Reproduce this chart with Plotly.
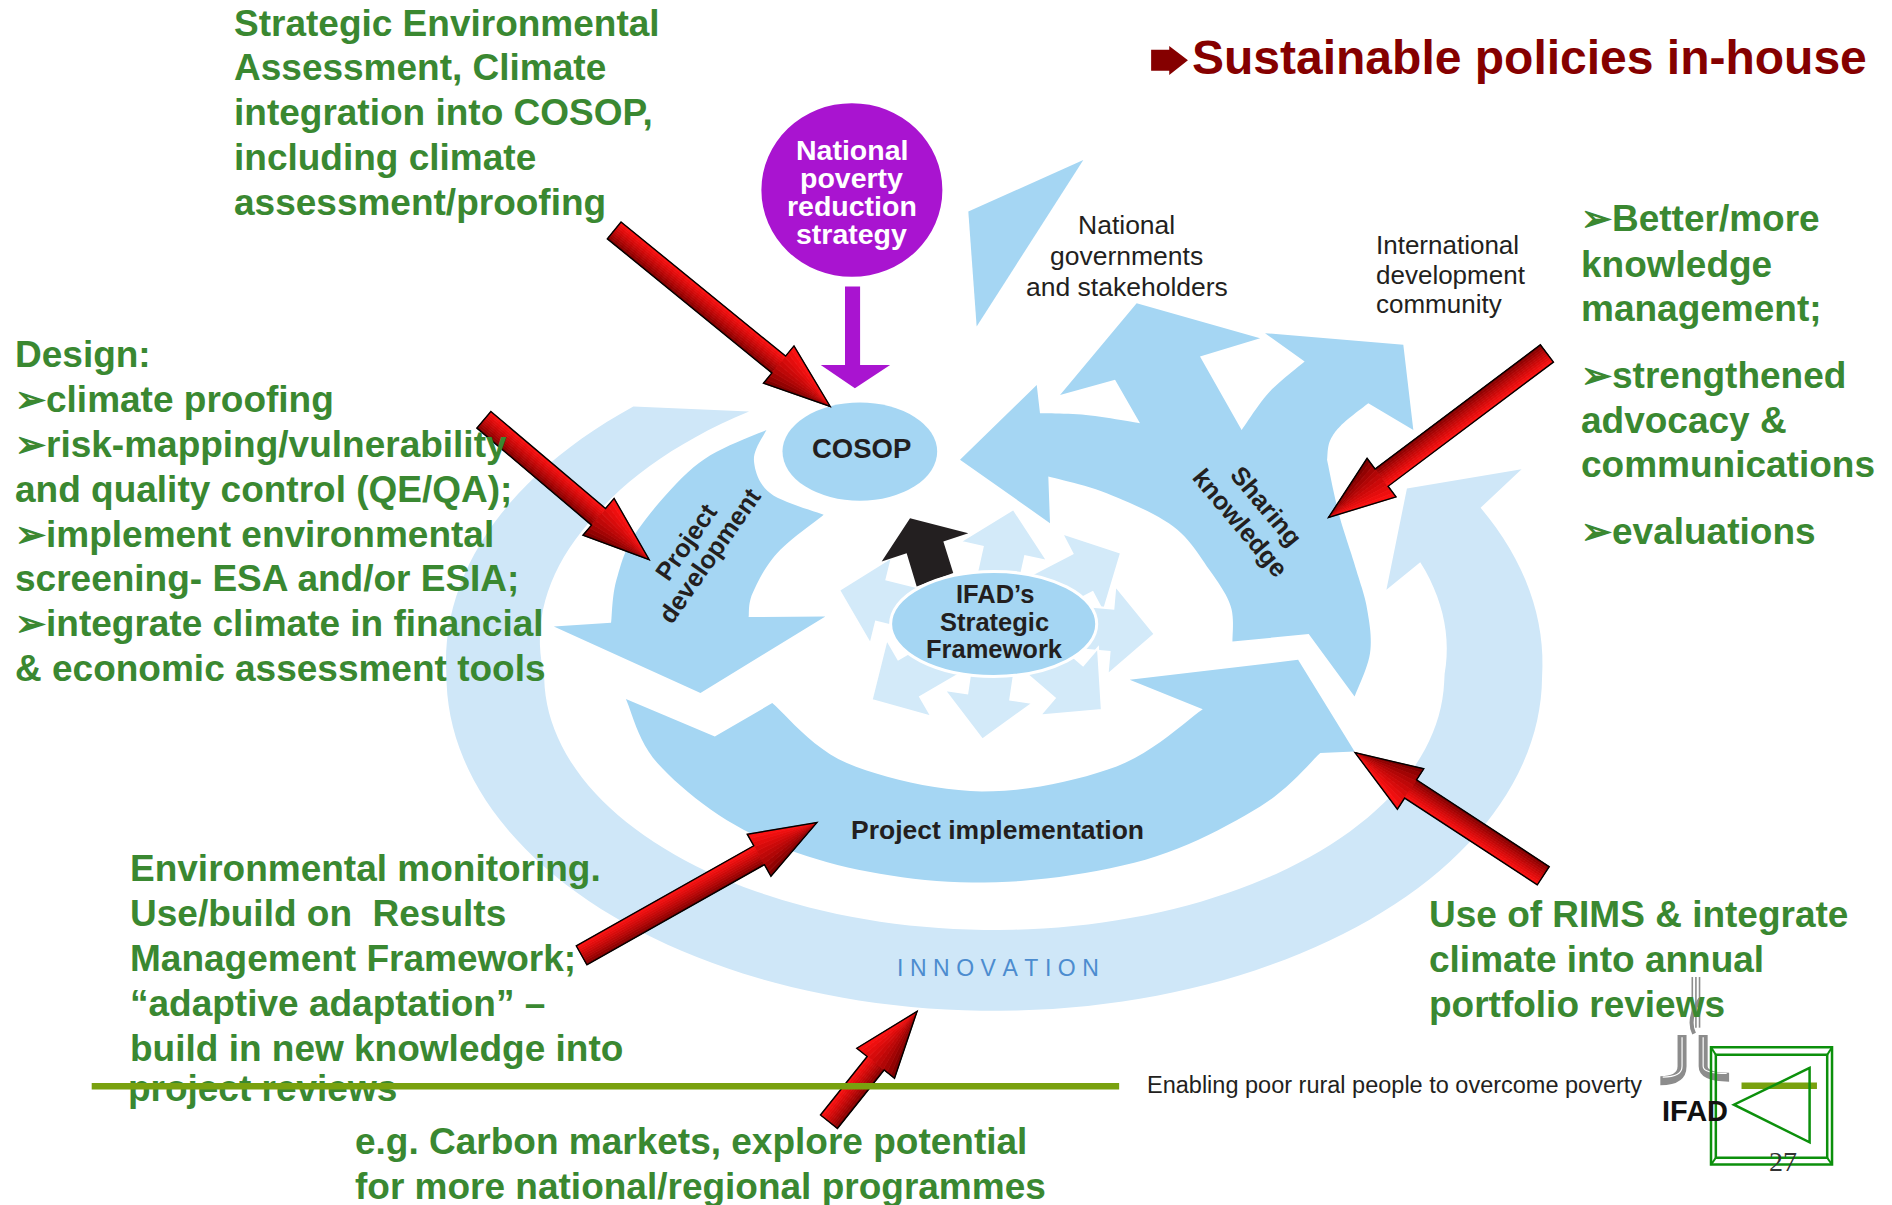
import math
import plotly.graph_objects as go

# ---------------- text content ----------------
TITLE = "Sustainable policies in-house"
BLOCK_A = ["Strategic Environmental", "Assessment, Climate", "integration into COSOP,",
           "including climate", "assessment/proofing"]
BLOCK_B = ["Design:", "➢climate proofing", "➢risk-mapping/vulnerability",
           "and quality control (QE/QA);", "➢implement environmental",
           "screening- ESA and/or ESIA;", "➢integrate climate in financial",
           "&amp; economic assessment tools"]
BLOCK_C = ["➢Better/more", "knowledge", "management;", "➢strengthened",
           "advocacy &amp;", "communications", "➢evaluations"]
BLOCK_D = ["Environmental monitoring.", "Use/build on\u00a0 Results", "Management Framework;",
           "“adaptive adaptation” –", "build in new knowledge into", "project reviews"]
BLOCK_E = ["Use of RIMS &amp; integrate", "climate into annual", "portfolio reviews"]
BLOCK_F = ["e.g. Carbon markets, explore potential", "for more national/regional programmes"]
NPRS = ["National", "poverty", "reduction", "strategy"]
NAT_GOV = ["National", "governments", "and stakeholders"]
INTL = ["International", "development", "community"]
IFAD_SF = ["IFAD’s", "Strategic", "Framework"]
PROJ_DEV = ["Project", "development"]
SHARING = ["Sharing", "knowledge"]
COSOP = "COSOP"
PROJ_IMPL = "Project implementation"
INNOVATION = "INNOVATION"
FOOTER = "Enabling poor rural people to overcome poverty"
LOGO = "IFAD"
PAGE = "27"

# ---------------- styling ----------------
PAGE_MARGIN = 8                      # default body margin of the html page
W, H = 1892 - PAGE_MARGIN, 1205 - PAGE_MARGIN
SX, SY = 1892 / 1568, 1205 / 999
XR, YR = 1568, 999
SANS = "Liberation Sans, Arial, Helvetica, sans-serif"
GREEN = "#3A8831"
DARK = "#231F20"
MAROON = "#850000"
MED = "#A5D6F3"
LIGHT = "#CFE7F8"
STAR = "#D3EAF9"
PURPLE = "#A914D0"

shapes = []
annotations = []


def catmull(pts, n=12):
    out = []
    P = [pts[0]] + list(pts) + [pts[-1]]
    for i in range(1, len(P) - 2):
        p0, p1, p2, p3 = P[i - 1], P[i], P[i + 1], P[i + 2]
        for k in range(n):
            t = k / n
            t2, t3 = t * t, t * t * t
            x = 0.5 * (2 * p1[0] + (-p0[0] + p2[0]) * t + (2 * p0[0] - 5 * p1[0] + 4 * p2[0] - p3[0]) * t2
                       + (-p0[0] + 3 * p1[0] - 3 * p2[0] + p3[0]) * t3)
            y = 0.5 * (2 * p1[1] + (-p0[1] + p2[1]) * t + (2 * p0[1] - 5 * p1[1] + 4 * p2[1] - p3[1]) * t2
                       + (-p0[1] + 3 * p1[1] - 3 * p2[1] + p3[1]) * t3)
            out.append((x, y))
    out.append(pts[-1])
    return out


def poly(*segs):
    pts = []
    for kind, p in segs:
        seg = catmull(p) if kind == "S" else list(p)
        if pts and seg and abs(pts[-1][0] - seg[0][0]) < 1e-6 and abs(pts[-1][1] - seg[0][1]) < 1e-6:
            seg = seg[1:]
        pts.extend(seg)
    return pts


def path_of(pts, close=True):
    s = "M " + " L ".join(f"{x:.2f},{y:.2f}" for x, y in pts)
    return s + (" Z" if close else "")


def add_poly(pts, fill, line_color=None, line_width=0, close=True):
    shapes.append(dict(type="path", xref="x", yref="y", path=path_of(pts, close),
                       fillcolor=fill if fill else "rgba(0,0,0,0)",
                       line=dict(color=line_color or "rgba(0,0,0,0)", width=line_width)))


def add_ellipse(cx, cy, rx, ry, fill, line_color=None, line_width=0):
    shapes.append(dict(type="circle", xref="x", yref="y", x0=cx - rx, x1=cx + rx, y0=cy - ry, y1=cy + ry,
                       fillcolor=fill, line=dict(color=line_color or "rgba(0,0,0,0)", width=line_width)))


def interp(keys, a):
    if a <= keys[0][0]:
        return keys[0][1]
    for (a0, s0), (a1, s1) in zip(keys[:-1], keys[1:]):
        if a0 <= a <= a1:
            return s0 + (s1 - s0) * (a - a0) / (a1 - a0)
    return keys[-1][1]


def ell_edge(cx, cy, rx, ry, a_from, a_to, keys, n=140):
    pts = []
    for i in range(n + 1):
        a = a_from + (a_to - a_from) * i / n
        s = interp(keys, a)
        r = math.radians(a)
        pts.append((cx + s * rx * math.cos(r), cy + s * ry * math.sin(r)))
    return pts


def arrow_geom(T, P, sw, hw, hl):
    dx, dy = P[0] - T[0], P[1] - T[1]
    L = math.hypot(dx, dy)
    ux, uy = dx / L, dy / L
    nx, ny = uy, -ux
    B = (P[0] - ux * hl, P[1] - uy * hl)

    def off(pt, k):
        return (pt[0] + nx * k, pt[1] + ny * k)
    return B, off


def arrow_outline(T, P, sw, hw, hl):
    B, off = arrow_geom(T, P, sw, hw, hl)
    return [off(T, sw / 2), off(B, sw / 2), off(B, hw / 2), P, off(B, -hw / 2), off(B, -sw / 2), off(T, -sw / 2)]


def red_arrow(T, P, sw=18, hw=40, hl=55, n=10):
    B, off = arrow_geom(T, P, sw, hw, hl)
    for i in range(n):
        u0 = -1 + 2 * i / n
        u1 = -1 + 2 * (i + 1) / n
        t = ((u0 + u1) / 2 + 1) / 2
        r = int(112 + 143 * (t ** 0.75))
        g = int(18 * t)
        col = f"rgb({r},{g},{g})"
        add_poly([off(T, u0 * sw / 2), off(B, u0 * sw / 2), off(B, u1 * sw / 2), off(T, u1 * sw / 2)],
                 col, col, 0.8)
        add_poly([off(B, u0 * hw / 2), P, off(B, u1 * hw / 2)], col, col, 0.8)
    add_poly(arrow_outline(T, P, sw, hw, hl), None, "#000000", 1.4)


# ---------------- outer light ring (INNOVATION) ----------------
RC = (824, 560)
OUT_KEYS = [(-29.4, 1.019), (0, 1.0), (180, 1.0), (230.6, 1.038)]
IN_KEYS = [(-25.2, 1.046), (0, 1.0), (180, 1.0), (214.3, 1.084), (242.3, 1.172)]
outer = ell_edge(RC[0], RC[1], 454, 278, 230.6, -29.4, OUT_KEYS)
inner = ell_edge(RC[0], RC[1], 373, 211, -25.2, 242.3, IN_KEYS)
add_poly(outer + [(1261, 389), (1166, 405), (1149, 489)] + inner, LIGHT)

# ---------------- starburst around IFAD framework ----------------
SC = (823.5, 517.3)
for a in [-83, -38, 5, 48, 94, 139, 197]:
    r = math.radians(a)
    tip = (SC[0] + 134 * math.cos(r), SC[1] + 96 * math.sin(r))
    rt = math.radians(a - 12)
    tail = (SC[0] + 20 * math.cos(rt), SC[1] + 14 * math.sin(rt))
    add_poly(arrow_outline(tail, tip, 36, 74, 36), STAR, "#FFFFFF", 2)

# ---------------- medium-blue cycle arrows ----------------
PD = poly(("S", [(506.4, 516.3), (510.9, 480.7), (528.7, 439.2), (579, 384), (635.2, 356.4)]),
          ("S", [(635.2, 356.4), (624.8, 381.2), (638.2, 408.8), (682.6, 426.8)]),
          ("S", [(682.6, 426.8), (644, 458.6), (623.7, 491.8), (620.4, 511.6)]),
          ("L", [(684, 511.1), (580.5, 574.6), (459, 519.4)]))
add_poly(PD, MED)

PI = poly(("L", [(518.7, 579.6), (592.4, 610.5), (640, 582.9)]),
          ("S", [(640, 582.9), (701.8, 632.6), (813.6, 656.1), (925.4, 635.4), (996.8, 587.9)]),
          ("L", [(936.2, 563.6), (1075.8, 547), (1122.6, 623), (1094.2, 624.3)]),
          ("S", [(1094.2, 624.3), (1044.4, 668.6), (949.3, 712.7), (825.5, 731.5), (711.3, 721),
                 (616.2, 687.9), (544.8, 632.6), (518.7, 579.6)]))
add_poly(PI, MED)

SK = poly(("L", [(1021.4, 531.8), (1084.6, 525.7), (1122.6, 577.4)]),
          ("S", [(1122.6, 577.4), (1135.4, 541.5), (1133, 505), (1123.1, 469.6), (1109.4, 425.4), (1099.8, 381.2)]),
          ("S", [(1099.8, 381.2), (1102, 366), (1112, 352), (1134, 334.3)]),
          ("L", [(1171.3, 356.4), (1163, 285.9), (1048.4, 276.2), (1081.2, 299.7)]),
          ("S", [(1081.2, 299.7), (1052, 325), (1029, 356.4)]),
          ("L", [(994.5, 295.6), (1044.3, 280.4), (942, 251.4), (878.5, 327.4), (924.1, 314.9), (944.8, 350.8)]),
          ("S", [(944.8, 350.8), (900, 344), (861.9, 342.5)]),
          ("L", [(859.2, 319.1), (795.6, 381.2), (870.2, 433.7), (868.8, 395)]),
          ("S", [(868.8, 395), (917.2, 408.9), (972.4, 436.5), (1002.2, 472.4), (1020, 502.8), (1021.4, 531.8)]))
add_poly(SK, MED)

# detached arrowhead (National governments)
add_poly([(802.5, 175.4), (897.8, 132.6), (809.4, 270.7)], MED)

# COSOP ellipse
add_ellipse(712.6, 374.4, 64.1, 40.7, MED)

# black arrow from framework to COSOP
add_poly([(759.7, 486.2), (751.4, 458.6), (730.7, 465.5), (754.2, 429.6), (802.5, 442), (781.8, 449),
          (790, 475.1)], "#231F20")

# IFAD strategic framework ellipse
add_ellipse(SC[0], SC[1], 85.4, 43.5, MED, "#FFFFFF", 3)

# purple circle + arrow
add_ellipse(706, 157.5, 75, 72, PURPLE)
add_poly([(700.3, 237.6), (712.8, 237.6), (712.8, 302.5), (737.7, 302.5), (708.5, 321.8), (680.2, 302.5),
          (700.3, 302.5)], PURPLE)

# ---------------- red callout arrows ----------------
RED_ARROWS = [((509, 191), (688, 337)), ((401, 348), (538, 464)), ((1282, 293), (1101, 429)),
              ((1279, 726), (1123, 624)), ((482, 792), (677, 682)), ((687, 930), (760, 838.5))]
for T, P in RED_ARROWS:
    red_arrow(T, P)

# ---------------- title arrow ----------------
add_poly([(954, 41.2), (969, 41.2), (969, 38.1), (984.5, 50), (969, 62.1), (969, 58.7), (954, 58.7)], MAROON)

# ---------------- footer ----------------
OLIVE = "#79A10F"
shapes.append(dict(type="line", xref="x", yref="y", x0=76, x1=927.5, y0=900.6, y1=900.6,
                   line=dict(color=OLIVE, width=6.5), layer="above"))
shapes.append(dict(type="line", xref="x", yref="y", x0=1443.3, x1=1505.8, y0=900.2, y1=900.2,
                   line=dict(color=OLIVE, width=6.5)))

# IFAD logo graphic
GREY = "#8C8C8C"
for xx in (1402.5, 1405.5, 1408.5):
    shapes.append(dict(type="line", xref="x", yref="y", x0=xx, x1=xx, y0=810, y1=852,
                       line=dict(color=GREY, width=1.6)))
shapes.append(dict(type="path", xref="x", yref="y", path="M 1409,828 Q 1398,845 1404,857",
                   line=dict(color=GREY, width=4)))
shapes.append(dict(type="path", xref="x", yref="y", path="M 1394,858 L 1394,884 Q 1394,896 1376,896",
                   line=dict(color=GREY, width=9)))
shapes.append(dict(type="path", xref="x", yref="y", path="M 1411.5,858 L 1411.5,884 Q 1411.5,893 1433,893",
                   line=dict(color=GREY, width=9)))
shapes.append(dict(type="path", xref="x", yref="y", path="M 1394,860 L 1394,884 Q 1394,893 1378,893",
                   line=dict(color="#FFFFFF", width=1.2)))
shapes.append(dict(type="path", xref="x", yref="y", path="M 1411.5,860 L 1411.5,884 Q 1411.5,890 1431,890",
                   line=dict(color="#FFFFFF", width=1.2)))

# green frame with triangle
FG = "#0C900C"
shapes.append(dict(type="rect", xref="x", yref="y", x0=1418, x1=1518.3, y0=868.3, y1=965.5,
                   line=dict(color=FG, width=2.5)))
shapes.append(dict(type="rect", xref="x", yref="y", x0=1422, x1=1514.3, y0=874.4, y1=959.8,
                   line=dict(color=FG, width=2.5)))
for (xa, ya), (xb, yb) in [((1418, 868.3), (1422, 874.4)), ((1518.3, 868.3), (1514.3, 874.4)),
                           ((1418, 965.5), (1422, 959.8)), ((1518.3, 965.5), (1514.3, 959.8))]:
    shapes.append(dict(type="line", xref="x", yref="y", x0=xa, y0=ya, x1=xb, y1=yb,
                       line=dict(color=FG, width=2)))
add_poly([(1499.7, 885.4), (1437, 915.8), (1499.7, 947)], None, FG, 2.5)


# ---------------- text ----------------
def ann(x, y, text, size, color=DARK, bold=False, xanchor="left", angle=0, family=SANS):
    annotations.append(dict(x=x, y=y, xref="x", yref="y", text=f"<b>{text}</b>" if bold else text,
                            showarrow=False, xanchor=xanchor, yanchor="middle", textangle=angle,
                            font=dict(family=family, size=size, color=color)))


ann(986.5, 47.6, TITLE, 48, MAROON, bold=True)

for i, t in enumerate(BLOCK_A):
    ann(192, 19.2 + 37.15 * i, t, 37, GREEN, bold=True)
for i, t in enumerate(BLOCK_B):
    ann(11, 294.2 + 37.15 * i, t, 37, GREEN, bold=True)
for t, y in zip(BLOCK_C, [181, 219, 256, 311, 348.5, 385, 441]):
    ann(1309, y, t, 37, GREEN, bold=True)
for i, t in enumerate(BLOCK_D[:-1]):
    ann(106, 720.3 + 37.2 * i, t, 37, GREEN, bold=True)
for i, t in enumerate(BLOCK_E):
    ann(1183, 758.5 + 37.3 * i, t, 37, GREEN, bold=True)
for i, t in enumerate(BLOCK_F):
    ann(292.5, 946.2 + 37.3 * i, t, 37, GREEN, bold=True)

for t, y in zip(NPRS, [124.5, 147.8, 171, 194.3]):
    ann(706, y, t, 28.5, "#FFFFFF", bold=True, xanchor="center")
for t, y in zip(NAT_GOV, [186.5, 212.5, 237.6]):
    ann(933.8, y, t, 26.5, DARK, xanchor="center")
for t, y in zip(INTL, [203, 228, 252]):
    ann(1139, y, t, 26, DARK)
for t, y in zip(IFAD_SF, [492.5, 515.3, 538]):
    ann(824.6, y, t, 25.5, DARK, bold=True, xanchor="center")
ann(713.6, 371.6, COSOP, 27.5, DARK, bold=True, xanchor="center")
ann(826.5, 688, PROJ_IMPL, 26.5, DARK, bold=True, xanchor="center")
for t, (x, y) in zip(PROJ_DEV, [(568.6, 449.6), (588.5, 460.5)]):
    ann(x, y, t, 25.5, DARK, bold=True, xanchor="center", angle=-55)
for t, (x, y) in zip(SHARING, [(1049.5, 419.5), (1028, 434)]):
    ann(x, y, t, 25.5, DARK, bold=True, xanchor="center", angle=50)
ann(826.7, 802.5, "\u2009\u200a".join(INNOVATION), 23, "#4C8CCF", xanchor="center")
ann(949, 899.2, FOOTER, 23.5, DARK)
ann(1404.5, 921.3, LOGO, 29, "#111111", bold=True, xanchor="center")
ann(1478, 963, PAGE, 28, "#333333", xanchor="center", family="Liberation Serif, Times New Roman, serif")

# last green line drawn as a trace so the footer rule passes over it
fig = go.Figure()
fig.add_trace(go.Scatter(x=[106], y=[905.5], mode="text", text=[f"<b>{BLOCK_D[-1]}</b>"],
                         textposition="middle right", hoverinfo="skip", showlegend=False,
                         textfont=dict(family=SANS, size=37, color=GREEN)))

fig.update_layout(
    width=W, height=H, margin=dict(l=0, r=0, t=0, b=0),
    paper_bgcolor="#FFFFFF", plot_bgcolor="#FFFFFF",
    xaxis=dict(range=[PAGE_MARGIN / SX, XR], visible=False, fixedrange=True),
    yaxis=dict(range=[YR, PAGE_MARGIN / SY], visible=False, fixedrange=True),
    shapes=shapes, annotations=annotations, showlegend=False,
)
fig.write_html("out.html", config={"displayModeBar": False})
